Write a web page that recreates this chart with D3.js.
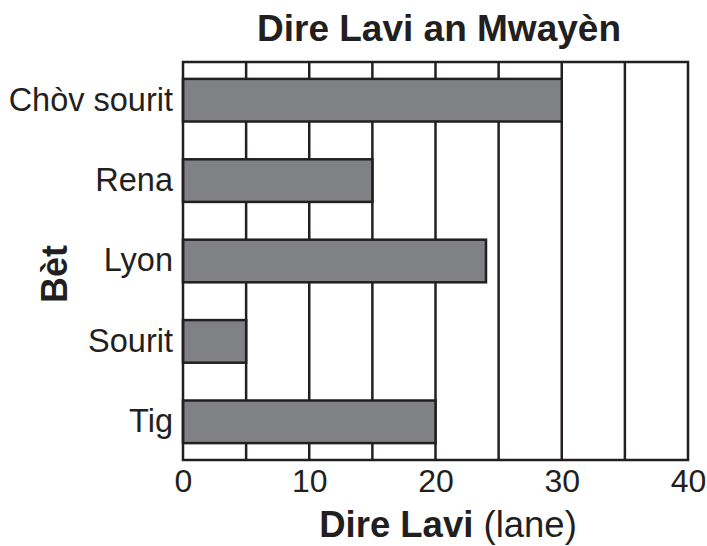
<!DOCTYPE html>
<html>
<head>
<meta charset="utf-8">
<script src="https://cdn.jsdelivr.net/npm/d3@7"></script>
<style>
  body { margin: 0; background: #fff; }
  text { font-family: "Liberation Sans", Arial, Helvetica, sans-serif; fill: #231f20; }
</style>
</head>
<body>
<div id="plot"></div>
<script>
// data
const animals = ["Chòv sourit", "Rena", "Lyon", "Sourit", "Tig"];
const lifespan = [30, 15, 24, 5, 20];
const xTicks = [0, 10, 20, 30, 40];
const gridValues = [5, 10, 15, 20, 25, 30, 35];

const data = animals.map((a, i) => ({ animal: a, years: lifespan[i] }));

const W = 707, H = 546;
const plotLeft = 183, plotRight = 688, plotTop = 62, plotBottom = 460;
const ink = "#231f20";

const svg = d3.select("#plot")
  .append("svg")
  .attr("width", W)
  .attr("height", H);

const x = d3.scaleLinear()
  .domain([0, 40])
  .range([plotLeft, plotRight]);

const y = d3.scaleBand()
  .domain(animals)
  .range([60, 462])
  .paddingInner(0.47)
  .paddingOuter(0.235);

// vertical grid lines
svg.append("g")
  .selectAll("line")
  .data(gridValues)
  .join("line")
  .attr("x1", d => x(d))
  .attr("x2", d => x(d))
  .attr("y1", plotTop)
  .attr("y2", plotBottom)
  .attr("stroke", ink)
  .attr("stroke-width", 2.5);

// bars
svg.append("g")
  .selectAll("rect")
  .data(data)
  .join("rect")
  .attr("x", x(0))
  .attr("y", d => y(d.animal))
  .attr("width", d => x(d.years) - x(0))
  .attr("height", y.bandwidth())
  .attr("fill", "#808184")
  .attr("stroke", ink)
  .attr("stroke-width", 2.5);

// frame
svg.append("rect")
  .attr("x", plotLeft)
  .attr("y", plotTop)
  .attr("width", plotRight - plotLeft)
  .attr("height", plotBottom - plotTop)
  .attr("fill", "none")
  .attr("stroke", ink)
  .attr("stroke-width", 2.5);

// x axis labels
const xAxis = svg.append("g")
  .attr("transform", `translate(0, ${plotBottom})`)
  .call(d3.axisBottom(x).tickValues(xTicks).tickSize(0).tickPadding(9));
xAxis.select(".domain").remove();
xAxis.selectAll("text")
  .style("font-size", "32px")
  .attr("fill", ink);

// y axis labels
const yAxis = svg.append("g")
  .attr("transform", `translate(${plotLeft}, 0)`)
  .call(d3.axisLeft(y).tickSize(0).tickPadding(10));
yAxis.select(".domain").remove();
yAxis.selectAll("text")
  .style("font-size", "32.5px")
  .attr("fill", ink);

// title
svg.append("text")
  .attr("x", 439)
  .attr("y", 41)
  .attr("text-anchor", "middle")
  .style("font-size", "37px")
  .style("font-weight", "bold")
  .text("Dire Lavi an Mwayèn");

// x axis title
const xt = svg.append("text")
  .attr("x", 448)
  .attr("y", 537)
  .attr("text-anchor", "middle")
  .style("font-size", "36.5px");
xt.append("tspan").style("font-weight", "bold").text("Dire Lavi");
xt.append("tspan").text(" (lane)");

// y axis title
svg.append("text")
  .attr("transform", "translate(67, 274) rotate(-90)")
  .attr("text-anchor", "middle")
  .style("font-size", "36px")
  .style("font-weight", "bold")
  .text("Bèt");
</script>
</body>
</html>
